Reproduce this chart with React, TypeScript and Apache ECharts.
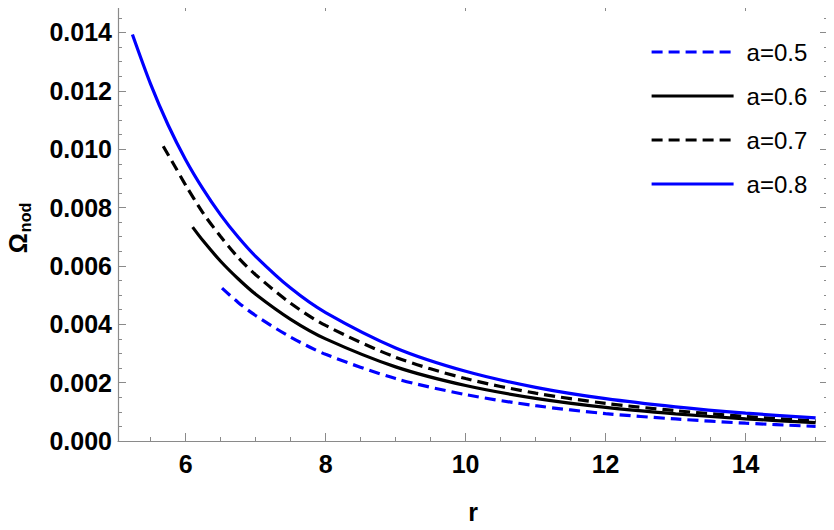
import React, { useEffect, useRef } from "react";
import * as echarts from "echarts";

const rA05 = [6.52, 6.75, 7, 7.5, 8, 9, 10, 11, 12, 13, 14, 15];
const vA05 = [0.00524, 0.00475, 0.0043, 0.00356, 0.00297, 0.00214, 0.00159, 0.00121, 0.00094, 0.000755, 0.00061, 0.0005];

const rA06 = [6.1, 6.25, 6.5, 6.75, 7, 7.5, 8, 9, 10, 11, 12, 13, 14, 15];
const vA06 = [0.00733, 0.00686, 0.00616, 0.00556, 0.00503, 0.00417, 0.0035, 0.00254, 0.0019, 0.00146, 0.00115, 0.00093, 0.00076, 0.00063];

const rA07 = [5.68, 5.85, 6, 6.25, 6.5, 6.75, 7, 7.5, 8, 9, 10, 11, 12, 13, 14, 15];
const vA07 = [0.0101, 0.0094, 0.00877, 0.00781, 0.00701, 0.00629, 0.0057, 0.00472, 0.00396, 0.00287, 0.00214, 0.00164, 0.00129, 0.00104, 0.00084, 0.000687];

const rA08 = [5.24, 5.5, 5.75, 6, 6.25, 6.5, 6.75, 7, 7.5, 8, 9, 10, 11, 12, 13, 14, 15];
const vA08 = [0.01393, 0.01223, 0.01083, 0.00964, 0.00863, 0.00775, 0.00699, 0.00633, 0.00524, 0.0044, 0.00319, 0.00239, 0.00184, 0.00145, 0.00117, 0.000955, 0.00079];

const seriesNames = ["a=0.5", "a=0.6", "a=0.7", "a=0.8"];

const xMajor = [6, 8, 10, 12, 14];
const xMinor = [5.5, 6.5, 7, 7.5, 8.5, 9, 9.5, 10.5, 11, 11.5, 12.5, 13, 13.5, 14.5, 15];
const yMajor = [0, 0.002, 0.004, 0.006, 0.008, 0.01, 0.012, 0.014];
const yMinor = [0.0005, 0.001, 0.0015, 0.0025, 0.003, 0.0035, 0.0045, 0.005, 0.0055, 0.0065, 0.007, 0.0075, 0.0085, 0.009, 0.0095, 0.0105, 0.011, 0.0115, 0.0125, 0.013, 0.0135, 0.0145];

const X_MIN = 5.034;
const X_MAX = 15.177;
const Y_MIN = 0;
const Y_MAX = 0.01501;

const FRAME = "#8a8a8a";
const FONT = "Liberation Sans, Arial, sans-serif";

function pairs(xs: number[], ys: number[]) {
  return xs.map((x, i) => [x, ys[i]]);
}

export default function App() {
  const ref = useRef<HTMLDivElement>(null);
  useEffect(() => {
    if (!ref.current) return;
    const chart = echarts.init(ref.current, undefined, { renderer: "svg" });

    const tickAxis = (
      kind: "x" | "y",
      position: string,
      values: number[],
      len: number,
      withLine: boolean,
      withLabel: boolean,
      extra: any = {}
    ) => ({
      type: "value",
      position,
      min: kind === "x" ? X_MIN : Y_MIN,
      max: kind === "x" ? X_MAX : Y_MAX,
      axisLine: { show: withLine, onZero: false, lineStyle: { color: FRAME, width: 1.2 } },
      axisTick: {
        show: true,
        inside: true,
        length: len,
        customValues: values,
        lineStyle: { color: FRAME, width: 1 },
      },
      axisLabel: withLabel
        ? {
            show: true,
            customValues: values,
            color: "#000",
            fontFamily: FONT,
            fontWeight: "bold",
            fontSize: 25,
            margin: kind === "x" ? 10 : 6,
            formatter: (v: number) => (kind === "y" ? v.toFixed(3) : String(Math.round(v))),
          }
        : { show: false },
      splitLine: { show: false },
      ...extra,
    });

    const option: any = {
      animation: false,
      backgroundColor: "#fff",
      grid: { left: 118, right: 6, top: 3, bottom: 89, containLabel: false },
      legend: {
        orient: "vertical",
        left: 645,
        top: 35,
        itemWidth: 82,
        itemHeight: 14,
        itemGap: 20,
        itemStyle: { opacity: 0 },
        lineStyle: { width: 3.2 },
        textStyle: { fontFamily: FONT, fontSize: 24, color: "#000", lineHeight: 24, padding: [0, 0, 0, 8] },
        data: seriesNames,
      },
      xAxis: [
        tickAxis("x", "bottom", xMajor, 8, true, true, {
          name: "r",
          nameLocation: "middle",
          nameGap: 58,
          nameTextStyle: { fontFamily: FONT, fontWeight: "bold", fontSize: 25, color: "#000" },
        }),
        tickAxis("x", "bottom", xMinor, 4, false, false),
        tickAxis("x", "top", xMajor, 8, true, false),
        tickAxis("x", "top", xMinor, 4, false, false),
      ],
      yAxis: [
        tickAxis("y", "left", yMajor, 8, true, true),
        tickAxis("y", "left", yMinor, 4, false, false),
        tickAxis("y", "right", yMajor, 8, true, false),
        tickAxis("y", "right", yMinor, 4, false, false),
      ],
      graphic: [
        {
          type: "text",
          x: 18,
          y: 228,
          rotation: Math.PI / 2,
          style: {
            text: "{o|Ω}{s|nod}",
            align: "center",
            verticalAlign: "middle",
            rich: {
              o: { fontFamily: FONT, fontWeight: "bold", fontSize: 25, fill: "#000", lineHeight: 30, verticalAlign: "middle" },
              s: { fontFamily: FONT, fontWeight: "bold", fontSize: 16, fill: "#000", lineHeight: 30, verticalAlign: "bottom", padding: [8, 0, 0, 1] },
            },
          },
        },
      ],
      series: [
        {
          name: seriesNames[0],
          type: "line",
          smooth: 0.3,
          symbol: "none",
          data: pairs(rA05, vA05),
          lineStyle: { color: "#0000ff", width: 3.2, type: [11, 6] },
          itemStyle: { color: "#0000ff" },
        },
        {
          name: seriesNames[1],
          type: "line",
          smooth: 0.3,
          symbol: "none",
          data: pairs(rA06, vA06),
          lineStyle: { color: "#000000", width: 3.2, type: "solid" },
          itemStyle: { color: "#000000" },
        },
        {
          name: seriesNames[2],
          type: "line",
          smooth: 0.3,
          symbol: "none",
          data: pairs(rA07, vA07),
          lineStyle: { color: "#000000", width: 3.2, type: [11, 6] },
          itemStyle: { color: "#000000" },
        },
        {
          name: seriesNames[3],
          type: "line",
          smooth: 0.3,
          symbol: "none",
          data: pairs(rA08, vA08),
          lineStyle: { color: "#0000ff", width: 3.2, type: "solid" },
          itemStyle: { color: "#0000ff" },
        },
      ],
    };
    chart.setOption(option);
    return () => chart.dispose();
  }, []);
  return <div ref={ref} style={{ width: 834, height: 530, margin: -8 }} />;
}
